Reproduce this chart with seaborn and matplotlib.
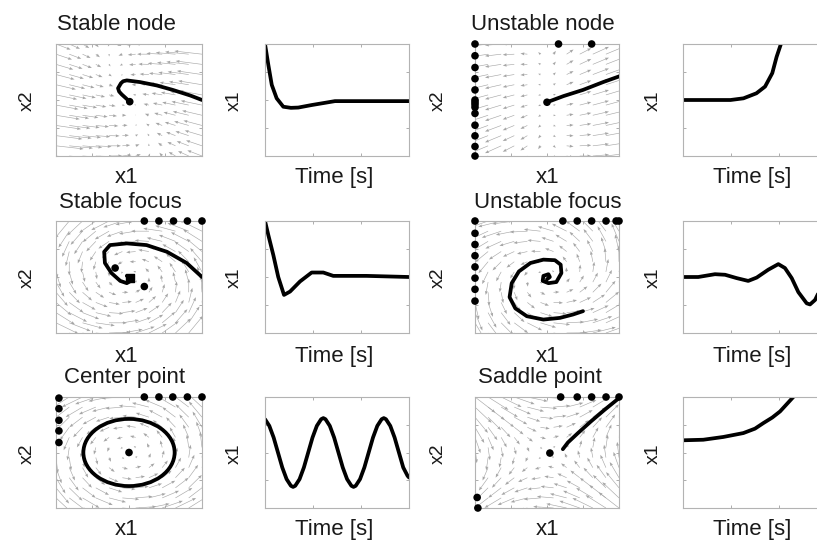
import numpy as np
import matplotlib
matplotlib.use("Agg")
import matplotlib.pyplot as plt
from matplotlib.patches import Ellipse
import seaborn as sns

sns.set_theme(style="white")
plt.rcParams["font.family"] = ["Liberation Sans", "DejaVu Sans"]

# ---------------------------------------------------------------- systems
titles = ["Stable node", "Unstable node", "Stable focus",
          "Unstable focus", "Center point", "Saddle point"]

# linear system matrices  dx/dt = A x
A_stable_node = [[-5.5, -1.8], [1.4, -0.45]]
A_unstable_node = [[3.0, 0.0], [1.1, 0.5]]
A_stable_focus = [[-0.33, -1.0], [1.0, -0.33]]
A_unstable_focus = [[0.26, -1.0], [1.0, 0.26]]
A_center = [[0.0, -1.0], [1.0, 0.0]]
A_saddle = [[0.0, 1.0], [1.0, 0.0]]

# phase-plane trajectories (x1, x2)
sn_x1 = [1.00, 0.84, 0.60, 0.38, 0.15, -0.03, -0.08, -0.11, -0.15, -0.135, -0.10, 0.01]
sn_x2 = [0.00, 0.08, 0.18, 0.26, 0.32, 0.35, 0.335, 0.30, 0.21, 0.15, 0.10, -0.03]

un_x1 = [0.00, 0.23, 0.50, 0.78, 1.02]
un_x2 = [-0.04, 0.07, 0.18, 0.32, 0.43]

sf_x1 = [1.00, 0.79, 0.52, 0.24, -0.03, -0.26, -0.34, -0.33, -0.24, -0.12, -0.03, 0.01, 0.02, -0.03]
sf_x2 = [0.00, 0.25, 0.45, 0.57, 0.60, 0.57, 0.45, 0.25, 0.07, -0.07, -0.11, -0.08, -0.01, 0.02]

uf_x1 = [-0.00, 0.04, 0.02, -0.05, -0.06, 0.02, 0.13, 0.20, 0.19, 0.11, -0.05, -0.23,
         -0.39, -0.49, -0.52, -0.44, -0.28, -0.05, 0.18, 0.36, 0.50]
uf_x2 = [-0.04, 0.00, 0.05, 0.02, -0.07, -0.11, -0.09, 0.07, 0.22, 0.30, 0.31, 0.25,
         0.10, -0.11, -0.36, -0.56, -0.70, -0.76, -0.73, -0.67, -0.61]

center_radius = [0.625, 0.605]

sd_x1 = [0.22, 0.29, 0.43, 0.61, 0.80, 1.00]
sd_x2 = [0.06, 0.18, 0.35, 0.56, 0.77, 0.98]

# initial-condition markers and equilibria
sn_dots = ([0.01], [-0.03])
un_dots = ([-1.0] * 14 + [0.0, 0.16, 0.62],
           [1.0, 0.79, 0.58, 0.38, 0.18, 0.0, -0.04, -0.08, -0.13, -0.24, -0.45, -0.64, -0.83, -1.0,
            -0.04, 1.0, 1.0])
sf_dots = ([0.21, 0.41, 0.61, 0.80, 1.00, -0.19, 0.21],
           [1.0, 1.0, 1.0, 1.0, 1.0, 0.16, -0.17])
uf_dots = ([-1.0] * 8 + [0.22, 0.42, 0.62, 0.82, 0.96, 1.0],
           [1.0, 0.78, 0.58, 0.38, 0.18, -0.02, -0.22, -0.43] + [1.0] * 6)
ce_dots = ([-0.96] * 5 + [0.21, 0.41, 0.60, 0.80, 1.00, 0.0],
           [0.98, 0.79, 0.58, 0.39, 0.18, 1.0, 1.0, 1.0, 1.0, 1.0, 0.0])
sd_dots = ([0.19, 0.42, 0.62, 0.82, 1.00, 0.04, -0.97, -0.96],
           [1.0, 1.0, 1.0, 1.0, 1.0, -0.01, -0.81, -1.0])

# x1 time responses (normalised time, x1)
sn_t = [0.0, 0.023, 0.047, 0.081, 0.127, 0.18, 0.231, 0.324, 0.417, 0.486, 1.0]
sn_y = [1.0, 0.63, 0.27, 0.03, -0.12, -0.14, -0.135, -0.09, -0.05, -0.02, -0.02]

un_t = [0.0, 0.33, 0.42, 0.51, 0.57, 0.62, 0.65, 0.68, 0.70]
un_y = [0.0, 0.0, 0.03, 0.12, 0.24, 0.48, 0.77, 1.0, 1.2]

sf_t = [0.0, 0.023, 0.058, 0.092, 0.132, 0.174, 0.243, 0.324, 0.405, 0.474, 0.706, 1.0]
sf_y = [1.0, 0.75, 0.39, 0.0, -0.32, -0.26, -0.08, 0.08, 0.08, 0.02, 0.02, 0.0]

uf_t = [0.0, 0.106, 0.222, 0.292, 0.373, 0.453, 0.512, 0.592, 0.662, 0.708, 0.755,
        0.801, 0.859, 0.882, 0.917, 0.94, 1.0]
uf_y = [0.0, 0.0, 0.05, 0.04, -0.02, -0.07, -0.01, 0.13, 0.23, 0.16, -0.02,
        -0.27, -0.47, -0.49, -0.41, -0.29, 0.05]

ce_t = [0.0, 0.03, 0.06, 0.09, 0.12, 0.15, 0.18, 0.195, 0.21, 0.24, 0.27, 0.30, 0.33, 0.36,
        0.39, 0.405, 0.42, 0.45, 0.48, 0.51, 0.54, 0.57, 0.60, 0.615, 0.63, 0.66, 0.69, 0.72,
        0.75, 0.78, 0.81, 0.825, 0.84, 0.87, 0.90, 0.93, 0.96, 0.99, 1.0]
ce_y = [0.60, 0.48, 0.27, 0.00, -0.27, -0.48, -0.60, -0.62, -0.60, -0.48, -0.27, 0.00, 0.27, 0.48,
        0.60, 0.62, 0.60, 0.48, 0.27, 0.00, -0.27, -0.48, -0.60, -0.62, -0.60, -0.48, -0.27, 0.00,
        0.27, 0.48, 0.60, 0.62, 0.60, 0.48, 0.27, 0.00, -0.27, -0.42, -0.45]

sd_t = [0.0, 0.141, 0.28, 0.419, 0.50, 0.558, 0.62, 0.674, 0.72, 0.766]
sd_y = [0.22, 0.23, 0.28, 0.35, 0.43, 0.53, 0.63, 0.74, 0.87, 1.0]

systems = [
    dict(A=A_stable_node, traj=(sn_x1, sn_x2), dots=sn_dots, ts=(sn_t, sn_y)),
    dict(A=A_unstable_node, traj=(un_x1, un_x2), dots=un_dots, ts=(un_t, un_y)),
    dict(A=A_stable_focus, traj=(sf_x1, sf_x2), dots=sf_dots, ts=(sf_t, sf_y)),
    dict(A=A_unstable_focus, traj=(uf_x1, uf_x2), dots=uf_dots, ts=(uf_t, uf_y)),
    dict(A=A_center, traj=None, dots=ce_dots, ts=(ce_t, ce_y)),
    dict(A=A_saddle, traj=(sd_x1, sd_x2), dots=sd_dots, ts=(sd_t, sd_y)),
]

# ---------------------------------------------------------------- layout
W, H = 817, 541
fig = plt.figure(figsize=(W / 100, H / 100), dpi=100)
fig.patch.set_facecolor("white")

ROWS = [(44, 156), (221, 333), (397, 508)]
PHASE_COLS = [(56, 202), (475, 619)]
TIME_COLS = [(265, 409), (683, 827)]
TITLE_X = [[116.7, 543.3], [120.8, 547.5], [124.2, 540.0]]
TITLE_BASE = [30.5, 207.5, 383.5]
XLAB_BASE = [183, 362, 535]
PHASE_XLAB_X = [127, 548]
TIME_XLAB_X = [334.5, 752.5]
PHASE_YLAB_X = [32, 443]
TIME_YLAB_X = [239, 658]

SPINE = "#b3b3b3"
ARROW = "#a6a6a6"
LW = 2.7


def box(l, t, r, b):
    return [l / W, 1 - b / H, (r - l) / W, (b - t) / H]


def ftext(x, y, s, **kw):
    fig.text(x / W, 1 - y / H, s, **kw)


def style(ax, xticks, yticks):
    ax.set_xticks(xticks)
    ax.set_yticks(yticks)
    ax.tick_params(direction="in", length=2.5, width=0.6, color="#a0a0a0",
                   bottom=True, top=True, left=True, right=True,
                   labelbottom=False, labelleft=False)
    ax.set_xlabel("")
    ax.set_ylabel("")
    for s in ax.spines.values():
        s.set_color(SPINE)
        s.set_linewidth(0.8)
    ax.set_facecolor("white")


grid = np.linspace(-1, 1, 12)
GX, GY = np.meshgrid(grid, grid)

for k, sysd in enumerate(systems):
    r, c = divmod(k, 2)
    top, bot = ROWS[r]

    # phase portrait
    pl, pr = PHASE_COLS[c]
    ax = fig.add_axes(box(pl, top, pr, bot))
    A = np.array(sysd["A"])
    U = A[0, 0] * GX + A[0, 1] * GY
    V = A[1, 0] * GX + A[1, 1] * GY
    mag = np.hypot(U, V).max()
    ax.quiver(GX, GY, U, V, angles="xy", scale_units="xy", scale=mag / 0.40,
              color=ARROW, units="dots", width=0.6, headwidth=5,
              headlength=6.5, headaxislength=6, zorder=1)
    if sysd["traj"] is not None:
        sns.lineplot(x=sysd["traj"][0], y=sysd["traj"][1], sort=False,
                     estimator=None, color="black", linewidth=LW, ax=ax,
                     legend=False, zorder=3)
    else:
        ax.add_patch(Ellipse((0, 0), 2 * center_radius[0], 2 * center_radius[1],
                             fill=False, edgecolor="black", linewidth=LW, zorder=3))
    sns.scatterplot(x=sysd["dots"][0], y=sysd["dots"][1], color="black", s=30,
                    edgecolor="none", ax=ax, clip_on=False, zorder=5, legend=False)
    if k == 2:
        ax.scatter([0.01], [-0.02], marker="s", s=30, color="black", zorder=5)
    ax.set_xlim(-1, 1)
    ax.set_ylim(-1, 1)
    style(ax, [-0.5, 0, 0.5], [-0.5, 0, 0.5])

    # x1 time response
    tl, tr = TIME_COLS[c]
    axt = fig.add_axes(box(tl, top, tr, bot))
    sns.lineplot(x=sysd["ts"][0], y=sysd["ts"][1], sort=False, estimator=None,
                 color="black", linewidth=LW, ax=axt, legend=False)
    axt.set_xlim(0, 1)
    axt.set_ylim(-1, 1)
    style(axt, [1 / 3, 2 / 3], [-0.5, 0, 0.5])

    # texts
    ftext(TITLE_X[r][c], TITLE_BASE[r], titles[k], ha="center", va="baseline",
          fontsize=16, color="#1a1a1a")
    ftext(PHASE_XLAB_X[c], XLAB_BASE[r], "x1", ha="center", va="baseline",
          fontsize=16, color="#1a1a1a")
    ftext(TIME_XLAB_X[c], XLAB_BASE[r], "Time [s]", ha="center", va="baseline",
          fontsize=16, color="#1a1a1a")
    ymid = (top + bot) / 2 + 1
    ftext(PHASE_YLAB_X[c], ymid, "x2", ha="center", va="baseline", rotation=90,
          rotation_mode="anchor", fontsize=14, color="#1a1a1a")
    ftext(TIME_YLAB_X[c], ymid, "x1", ha="center", va="baseline", rotation=90,
          rotation_mode="anchor", fontsize=14, color="#1a1a1a")

fig.savefig("out.png", dpi=100, facecolor="white")
